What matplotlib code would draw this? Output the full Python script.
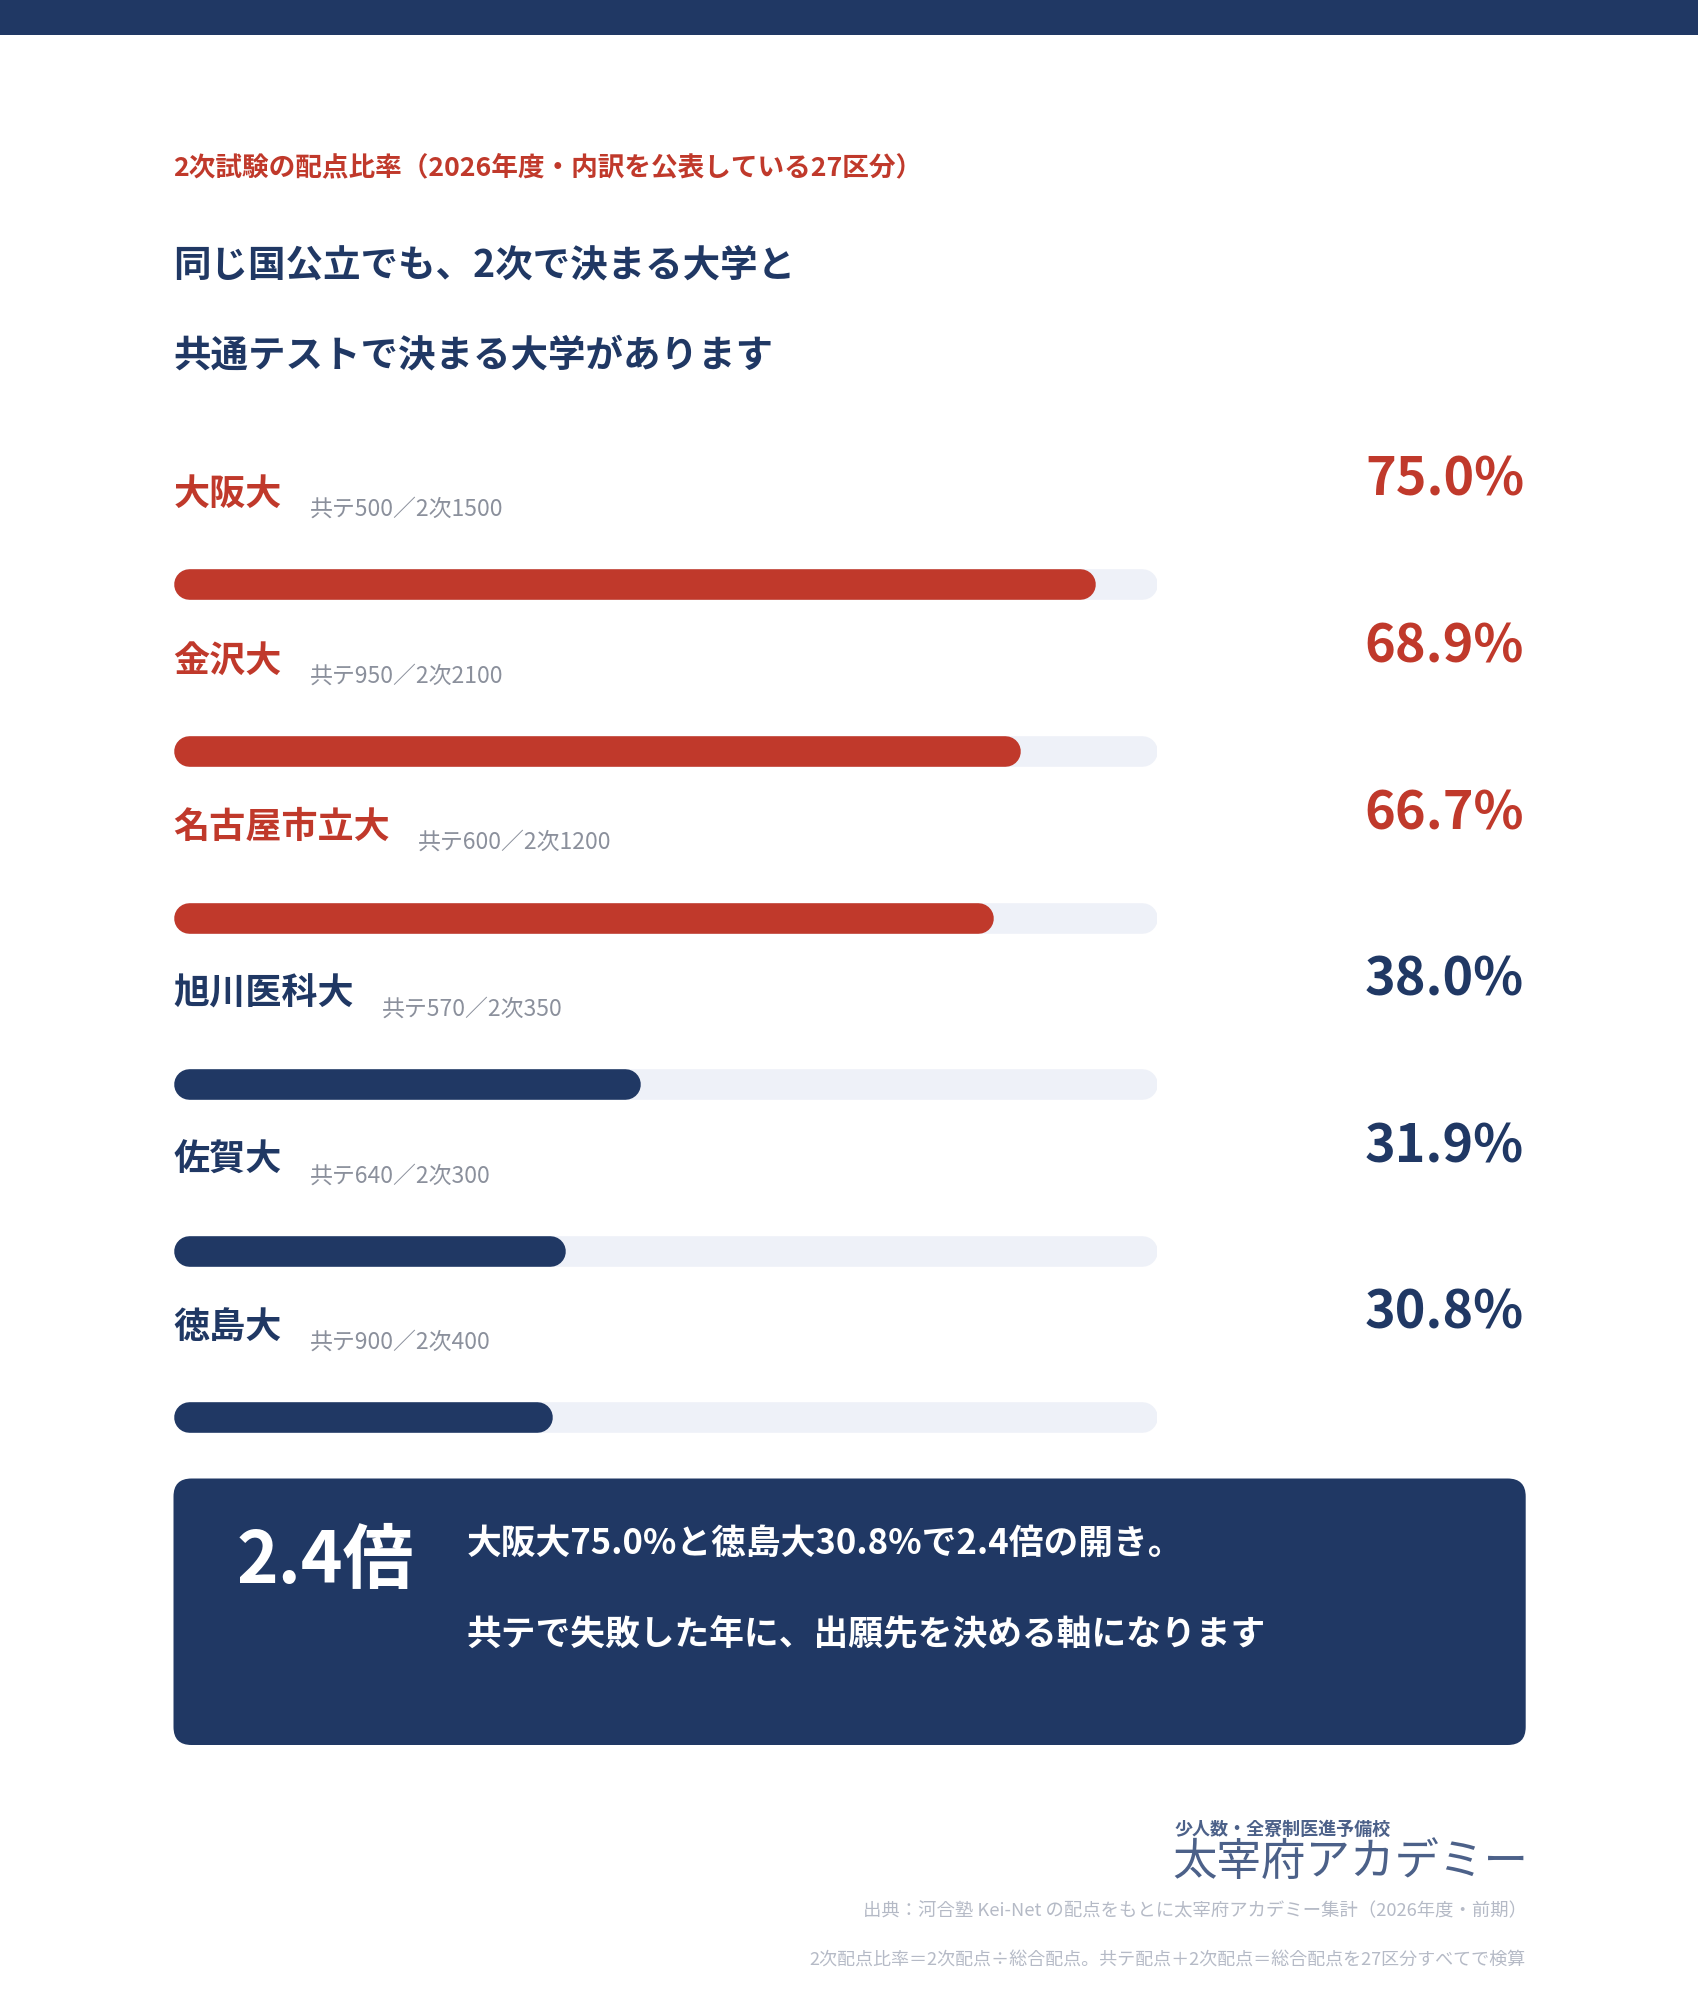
import matplotlib
matplotlib.use("Agg")
import matplotlib.pyplot as plt
from matplotlib.patches import FancyBboxPatch, Rectangle

plt.rcParams['font.family'] = ['Noto Sans CJK JP', 'DejaVu Sans']

# data
universities = ["大阪大", "金沢大", "名古屋市立大", "旭川医科大", "佐賀大", "徳島大"]
kyotsu_points = [500, 950, 600, 570, 640, 900]
niji_points = [1500, 2100, 1200, 350, 300, 400]
niji_ratio = [75.0, 68.9, 66.7, 38.0, 31.9, 30.8]
scale_max = 80.0

RED = "#C0392B"
NAVY = "#203864"
TRACK = "#EEF1F8"
GRAY = "#8B909C"
LIGHT = "#B5BAC6"
LOGO = "#4C6189"

W, H = 1698, 2000
fig = plt.figure(figsize=(W / 100, H / 100), dpi=100)
fig.patch.set_facecolor("white")

# background / layout axes in pixel units
bg = fig.add_axes([0, 0, 1, 1])
bg.set_xlim(0, W)
bg.set_ylim(H, 0)
bg.axis("off")

bg.add_patch(Rectangle((0, 0), W, 35, color=NAVY, lw=0))

bg.text(173, 168, "2次試験の配点比率（2026年度・内訳を公表している27区分）",
        color=RED, fontsize=19.2, fontweight="bold", va="center", ha="left")
bg.text(173, 265, "同じ国公立でも、2次で決まる大学と",
        color=NAVY, fontsize=27, fontweight="bold", va="center", ha="left")
bg.text(173, 355, "共通テストで決まる大学があります",
        color=NAVY, fontsize=27, fontweight="bold", va="center", ha="left")

# bars axes
x0, x1 = 173.5, 1157
row0, step = 584.3, 166.6
n = len(universities)
top = row0 - step / 2
ax = fig.add_axes([x0 / W, 1 - (top + n * step) / H, (x1 - x0) / W, n * step / H])
ax.set_xlim(0, scale_max)
ax.set_ylim(n - 0.5, -0.5)
ax.axis("off")

bar_px = 30.6
lw = bar_px * 0.72
r = (bar_px / 2) * scale_max / (x1 - x0)  # cap radius in data units

renderer = fig.canvas.get_renderer()
for i, (name, k, s, v) in enumerate(zip(universities, kyotsu_points, niji_points, niji_ratio)):
    col = RED if v >= 50 else NAVY
    ax.plot([r, scale_max - r], [i, i], color=TRACK, lw=lw, solid_capstyle="round")
    ax.plot([r, v - r], [i, i], color=col, lw=lw, solid_capstyle="round")

    name_y = i - 90 / step
    t = ax.text(0, name_y, name, color=col, fontsize=26, fontweight="bold",
                va="center", ha="left")
    bb = t.get_window_extent(renderer)
    sx = ax.transAxes.inverted().transform((bb.x1 + 28, 0))[0]
    ax.text(sx, i - 75 / step, f"共テ{k}／2次{s}", color=GRAY, fontsize=16.5,
            va="center", ha="left", transform=ax.get_yaxis_transform())
    px = (1524 - x0) / (x1 - x0)
    ax.text(px, i - 104 / step, f"{v:.1f}%", color=col, fontsize=37.5,
            fontweight="bold", va="center", ha="right",
            transform=ax.get_yaxis_transform())

# summary box
box = FancyBboxPatch((173.5 + 18, 1478.5 + 18), 1525.7 - 173.5 - 36, 1745 - 1478.5 - 36,
                     boxstyle="round,pad=18,rounding_size=18", fc=NAVY, ec="none")
bg.add_patch(box)
gap = niji_ratio[0] / niji_ratio[-1]
bg.text(237, 1562, f"{gap:.1f}倍", color="white", fontsize=51, fontweight="bold",
        va="center", ha="left")
bg.text(467, 1543, f"{universities[0]}{niji_ratio[0]:.1f}%と{universities[-1]}{niji_ratio[-1]:.1f}%で{gap:.1f}倍の開き。",
        color="white", fontsize=25, fontweight="bold", va="center", ha="left")
bg.text(467, 1635, "共テで失敗した年に、出願先を決める軸になります",
        color="white", fontsize=25, fontweight="bold", va="center", ha="left")

# logo text
bg.text(1175, 1829, "少人数・全寮制医進予備校", color=LOGO, fontsize=13,
        fontweight="bold", va="center", ha="left")
bg.text(1528, 1862, "太宰府アカデミー", color=LOGO, fontsize=32,
        va="center", ha="right")

# footnotes
bg.text(1527, 1911, "出典：河合塾 Kei-Net の配点をもとに太宰府アカデミー集計（2026年度・前期）",
        color=LIGHT, fontsize=13.2, va="center", ha="right")
bg.text(1525, 1960, "2次配点比率＝2次配点÷総合配点。共テ配点＋2次配点＝総合配点を27区分すべてで検算",
        color=LIGHT, fontsize=13, va="center", ha="right")

fig.savefig("out.png", dpi=100, facecolor="white")
